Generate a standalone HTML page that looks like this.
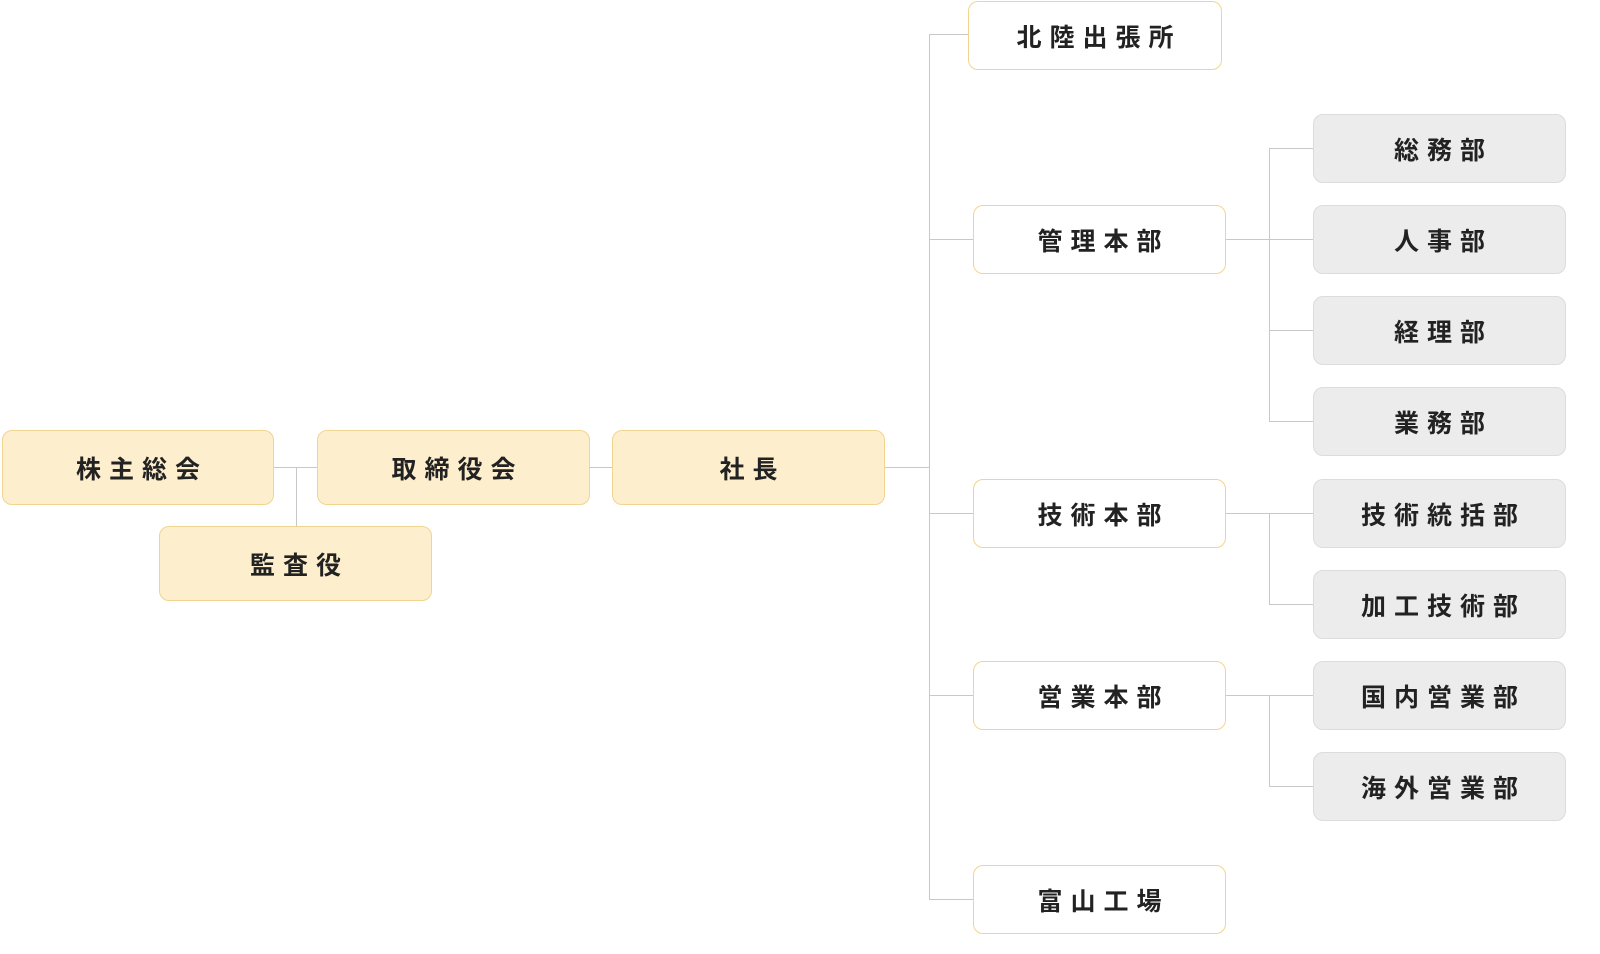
<!DOCTYPE html>
<html><head><meta charset="utf-8"><style>
body{margin:0;width:1600px;height:954px;background:#fff;position:relative;overflow:hidden;font-family:"Liberation Sans","Noto Sans CJK JP",sans-serif}
.b{position:absolute;box-sizing:border-box;border-radius:10px;display:flex;align-items:center;justify-content:center;font-size:25px;font-weight:bold;letter-spacing:8px;color:#222;padding-left:8px}
.y{background:#fdefce;border:1.5px solid #f0d590}
.w{background:#fff;border:1.5px solid #f0d590}
.g{background:#ececec;border:1px solid #dcdcdc}
.h{position:absolute;height:1px;background:#c8c8c8}
.v{position:absolute;width:1px;background:#c8c8c8}
</style></head><body>
<div class="h" style="left:274px;top:467px;width:43px"></div>
<div class="v" style="left:296px;top:467px;height:59px"></div>
<div class="h" style="left:590px;top:467px;width:22px"></div>
<div class="h" style="left:885px;top:467px;width:44px"></div>
<div class="v" style="left:929px;top:34px;height:866px"></div>
<div class="h" style="left:929px;top:34px;width:40px"></div>
<div class="h" style="left:929px;top:239px;width:44px"></div>
<div class="h" style="left:929px;top:513px;width:44px"></div>
<div class="h" style="left:929px;top:695px;width:44px"></div>
<div class="h" style="left:929px;top:899px;width:44px"></div>
<div class="h" style="left:1226px;top:239px;width:87px"></div>
<div class="v" style="left:1269px;top:148px;height:274px"></div>
<div class="h" style="left:1269px;top:148px;width:44px"></div>
<div class="h" style="left:1269px;top:330px;width:44px"></div>
<div class="h" style="left:1269px;top:421px;width:44px"></div>
<div class="h" style="left:1226px;top:513px;width:87px"></div>
<div class="v" style="left:1269px;top:513px;height:92px"></div>
<div class="h" style="left:1269px;top:604px;width:44px"></div>
<div class="h" style="left:1226px;top:695px;width:87px"></div>
<div class="v" style="left:1269px;top:695px;height:92px"></div>
<div class="h" style="left:1269px;top:786px;width:44px"></div>

<div class="b y" style="left:2px;top:430px;width:272px;height:75px">株主総会</div>
<div class="b y" style="left:317px;top:430px;width:273px;height:75px">取締役会</div>
<div class="b y" style="left:612px;top:430px;width:273px;height:75px">社長</div>
<div class="b y" style="left:159px;top:526px;width:273px;height:75px">監査役</div>

<div class="b w" style="left:968px;top:1px;width:254px;height:69px">北陸出張所</div>
<div class="b w" style="left:973px;top:205px;width:253px;height:69px">管理本部</div>
<div class="b w" style="left:973px;top:479px;width:253px;height:69px">技術本部</div>
<div class="b w" style="left:973px;top:661px;width:253px;height:69px">営業本部</div>
<div class="b w" style="left:973px;top:865px;width:253px;height:69px">富山工場</div>

<div class="b g" style="left:1313px;top:114px;width:253px;height:69px">総務部</div>
<div class="b g" style="left:1313px;top:205px;width:253px;height:69px">人事部</div>
<div class="b g" style="left:1313px;top:296px;width:253px;height:69px">経理部</div>
<div class="b g" style="left:1313px;top:387px;width:253px;height:69px">業務部</div>
<div class="b g" style="left:1313px;top:479px;width:253px;height:69px">技術統括部</div>
<div class="b g" style="left:1313px;top:570px;width:253px;height:69px">加工技術部</div>
<div class="b g" style="left:1313px;top:661px;width:253px;height:69px">国内営業部</div>
<div class="b g" style="left:1313px;top:752px;width:253px;height:69px">海外営業部</div>
</body></html>
